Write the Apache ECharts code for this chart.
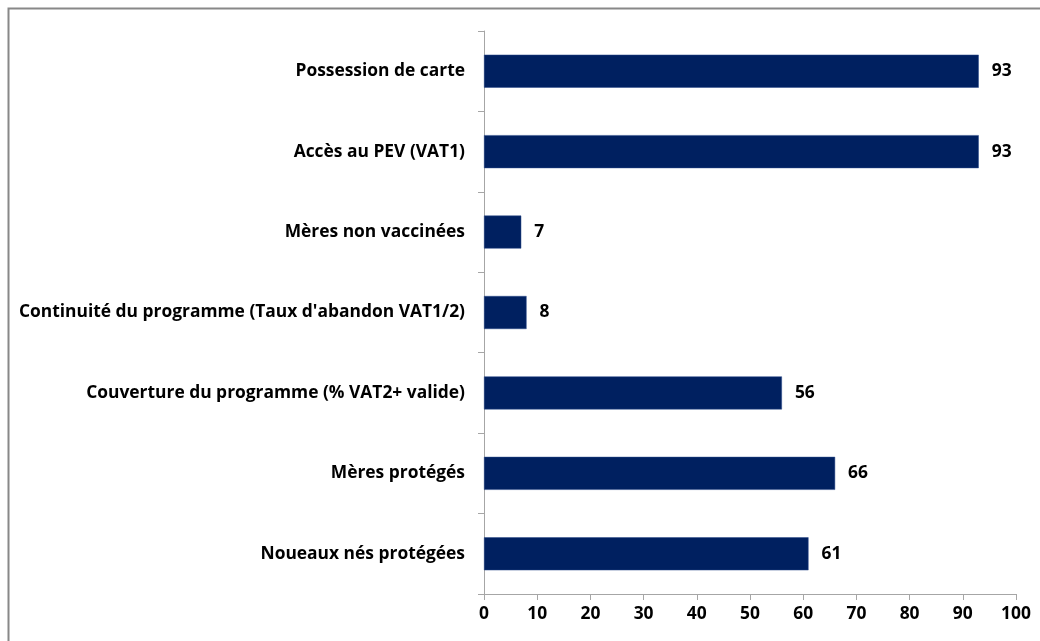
<!DOCTYPE html>
<html>
	<head>
		<meta charset="utf-8">
		<title></title>
		<script src="https://cdn.jsdelivr.net/npm/echarts@6/dist/echarts.min.js"></script>
		<style>
			html, body {
				margin: 0;
				padding: 0;
				background: #ffffff;
			}
			#main {
				width: 1040px;
				height: 641px;
			}
		</style>
	</head>
	<body>
		<div id="main"></div>
	</body>
	<script>
		// categories listed bottom to top (ECharts category axis order)
		var categories = [
			"Noueaux nés protégées",
			"Mères protégés",
			"Couverture du programme (% VAT2+ valide)",
			"Continuité du programme (Taux d'abandon VAT1/2)",
			"Mères non vaccinées",
			"Accès au PEV (VAT1)",
			"Possession de carte"
		];
		var values = [61, 66, 56, 8, 7, 93, 93];
		var xTicks = [0, 10, 20, 30, 40, 50, 60, 70, 80, 90, 100];

		var font = "'Open Sans', sans-serif";

		var option = {
			animation: false,
			graphic: [{
				type: "rect",
				shape: { x: 8.5, y: 8.5, width: 1200, height: 800 },
				style: { fill: "none", stroke: "#888888", lineWidth: 2 },
				silent: true
			}],
			grid: {
				left: 484,
				right: 24,
				top: 31,
				bottom: 47
			},
			xAxis: {
				type: "value",
				min: xTicks[0],
				max: xTicks[xTicks.length - 1],
				interval: 10,
				splitLine: { show: false },
				axisLine: { show: true, lineStyle: { color: "#a6a6a6", width: 1 } },
				axisTick: { show: true, length: 6, lineStyle: { color: "#a6a6a6" } },
				axisLabel: {
					color: "#000",
					fontFamily: font,
					fontWeight: "bold",
					fontSize: 17.4,
					margin: 12
				}
			},
			yAxis: {
				type: "category",
				data: categories,
				axisLine: { show: true, lineStyle: { color: "#a6a6a6", width: 1 } },
				axisTick: { show: true, length: 6, lineStyle: { color: "#a6a6a6" } },
				axisLabel: {
					color: "#000",
					fontFamily: font,
					fontWeight: "bold",
					fontSize: 17.4,
					margin: 19
				}
			},
			series: [{
				type: "bar",
				data: values,
				barWidth: 33,
				itemStyle: {
					color: "#002060",
					borderColor: "#2a4a8a",
					borderWidth: 0.5
				},
				label: {
					show: true,
					position: "right",
					distance: 13,
					color: "#000",
					fontFamily: font,
					fontWeight: "bold",
					fontSize: 17.4
				}
			}]
		};

		var echart = echarts.init(document.getElementById("main"));
		echart.setOption(option);
	</script>
</html>
